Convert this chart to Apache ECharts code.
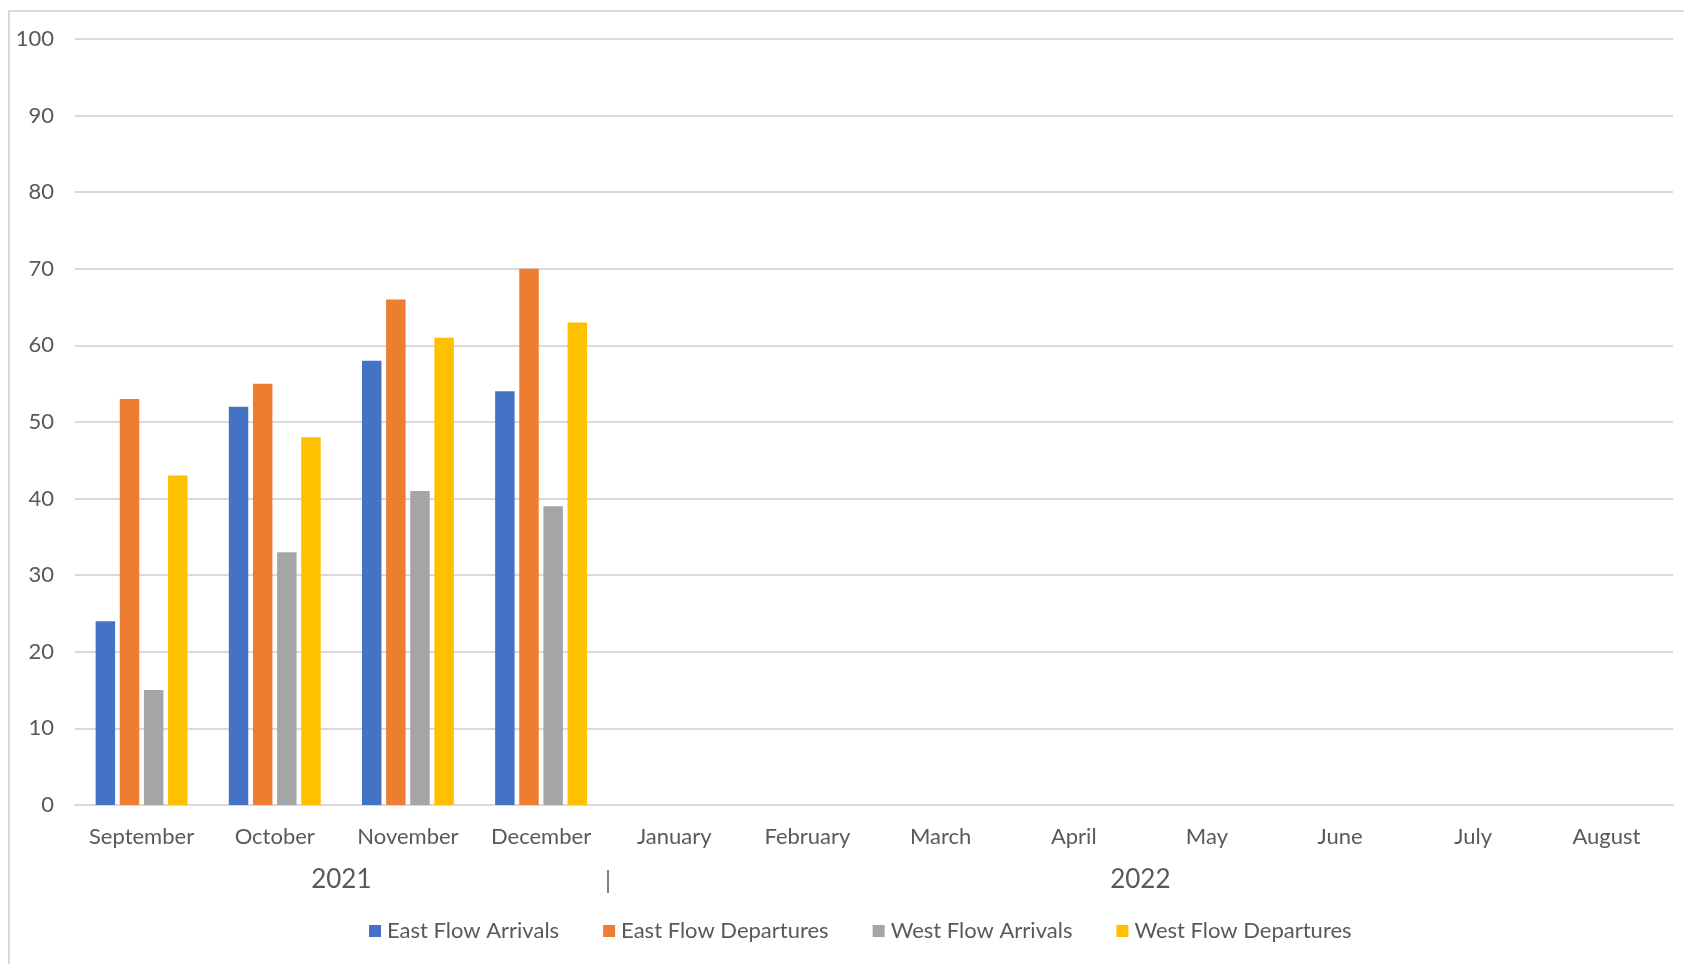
<!DOCTYPE html>
<html>
<head>
<meta charset="utf-8">
<script src="https://cdn.jsdelivr.net/npm/echarts@6/dist/echarts.min.js"></script>
<style>
html,body{margin:0;padding:0;background:#fff;}
#chart{width:1684px;height:964px;}
</style>
</head>
<body>
<div id="chart"></div>
<script>
const months = ['September','October','November','December','January','February','March','April','May','June','July','August'];
const eastArrivals   = [24, 52, 58, 54, null, null, null, null, null, null, null, null];
const eastDepartures = [53, 55, 66, 70, null, null, null, null, null, null, null, null];
const westArrivals   = [15, 33, 41, 39, null, null, null, null, null, null, null, null];
const westDepartures = [43, 48, 61, 63, null, null, null, null, null, null, null, null];
const seriesNames = ['East Flow Arrivals','East Flow Departures','West Flow Arrivals','West Flow Departures'];
const yearLabels = ['2021','2022'];
const yearStarts = [0, 4];   // first month index of each year group
const yearEnds   = [4, 12];  // end (exclusive) month index of each year group
const yTicks = [0,10,20,30,40,50,60,70,80,90,100];

const FONT = 'Lato';
const TXT = '#595959';
const colors = ['#4472C4','#ED7D31','#A5A5A5','#FFC000'];

const yearCenters = yearLabels.map((_, i) => (yearStarts[i] + yearEnds[i]) / 2);
const yearBounds = yearStarts.slice(1);

const chart = echarts.init(document.getElementById('chart'), null, {renderer: 'canvas'});
const dataSets = [eastArrivals, eastDepartures, westArrivals, westDepartures];

chart.setOption({
  backgroundColor: '#ffffff',
  animation: false,
  color: colors,
  textStyle: {fontFamily: FONT},
  graphic: [{
    type: 'rect',
    silent: true,
    shape: {x: 9, y: 11, width: 1720, height: 1000},
    style: {fill: 'none', stroke: '#D9D9D9', lineWidth: 2}
  }],
  grid: {left: 75, right: 11, top: 39, bottom: 159, containLabel: false},
  legend: {
    data: seriesNames,
    left: 364,
    top: 915,
    icon: 'rect',
    itemWidth: 12,
    itemHeight: 12,
    itemGap: 44,
    textStyle: {fontFamily: FONT, fontSize: 22, color: TXT, padding: [0,0,0,1]}
  },
  xAxis: [{
    type: 'category',
    data: months,
    boundaryGap: true,
    axisLine: {show: true, lineStyle: {color: '#D9D9D9', width: 2}},
    axisTick: {show: false},
    axisLabel: {fontFamily: FONT, fontSize: 22, color: TXT, margin: 21, interval: 0},
    splitLine: {show: false}
  }, {
    type: 'value',
    position: 'bottom',
    offset: 65,
    min: 0,
    max: months.length,
    axisLine: {show: false},
    splitLine: {show: false},
    axisTick: {show: true, customValues: yearBounds, length: 23, lineStyle: {color: TXT, width: 1.5}},
    axisLabel: {
      customValues: yearCenters,
      fontFamily: FONT, fontSize: 26, color: TXT, margin: -3,
      formatter: function (v) {
        const i = yearCenters.indexOf(v);
        return i >= 0 ? yearLabels[i] : '';
      }
    }
  }],
  yAxis: {
    type: 'value',
    min: yTicks[0],
    max: yTicks[yTicks.length - 1],
    interval: 10,
    axisLine: {show: false},
    axisTick: {show: false},
    axisLabel: {fontFamily: FONT, fontSize: 22, color: TXT, margin: 21},
    splitLine: {show: true, lineStyle: {color: '#D9D9D9', width: 2}}
  },
  series: seriesNames.map((name, i) => ({
    name: name,
    type: 'bar',
    xAxisIndex: 0,
    data: dataSets[i],
    barGap: '24%',
    barCategoryGap: '31%',
    itemStyle: {color: colors[i]}
  }))
});
</script>
</body>
</html>
